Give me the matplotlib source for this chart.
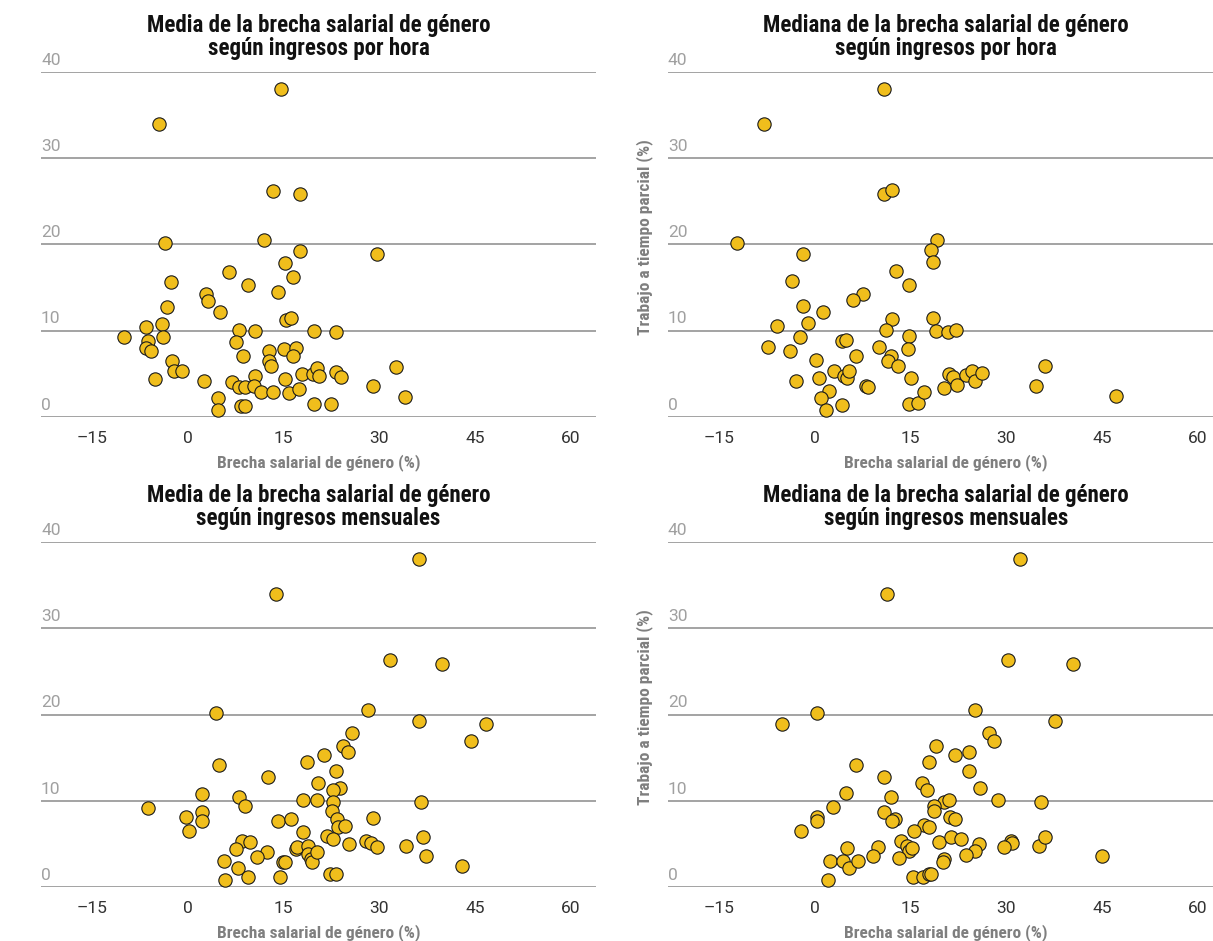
import matplotlib
matplotlib.use('Agg')
import matplotlib.pyplot as plt
from matplotlib import font_manager

# Brecha salarial de género (%) vs trabajo a tiempo parcial (%), por país
media_hora_x = [14.6, -4.5, 13.3, 17.6, -3.6, 11.9, 17.6, 29.7, 15.2, 6.5, 16.5, -2.7, 9.4, 14.1,
                2.8, 3.2, -3.3, 5.0, 15.4, 16.2, -6.5, -4.1, -10.0, -3.9, 8.1, 10.6, 19.8, 23.3,
                -6.2, -6.5, -5.8, 7.6, 8.7, 12.7, 12.8, 13.1, 15.1, 17.0, 16.5, -2.4, -2.2, -0.9,
                -5.2, 2.6, 6.9, 8.0, 8.9, 10.6, 10.4, 11.5, 13.4, 15.3, 15.9, 17.4, 17.9, 19.6,
                20.3, 20.6, 23.2, 24.0, 29.1, 32.6, 34.1, 4.8, 4.8, 8.4, 9.0, 19.8, 22.4]
media_hora_y = [38.0, 34.0, 26.2, 25.8, 20.2, 20.5, 19.2, 18.9, 17.8, 16.8, 16.2, 15.6, 15.3, 14.5,
                14.2, 13.4, 12.7, 12.1, 11.2, 11.5, 10.4, 10.8, 9.2, 9.3, 10.1, 10.0, 9.9, 9.8,
                8.8, 8.0, 7.6, 8.7, 7.1, 7.6, 6.5, 5.9, 7.8, 8.0, 7.0, 6.5, 5.3, 5.3,
                4.4, 4.1, 4.0, 3.5, 3.4, 4.7, 3.6, 2.9, 2.9, 4.4, 2.8, 3.2, 5.0, 5.0,
                5.6, 4.7, 5.2, 4.6, 3.6, 5.8, 2.3, 2.2, 0.8, 1.2, 1.2, 1.5, 1.5]

mediana_hora_x = [10.9, -8.0, 10.8, 12.1, -12.2, 19.2, 18.2, -1.9, 18.5, 12.7, 14.8, -3.6, 7.6, 6.0,
                  -1.9, 1.3, 12.1, 18.5, -6.0, -1.1, 11.1, 19.0, 20.8, 22.1, -2.3, 14.8, -7.4, -3.9,
                  4.3, 4.8, 10.0, 14.6, 6.4, 12.0, 11.5, 13.0, 0.2, 0.6, -3.0, 3.0, 4.6, 5.0,
                  5.3, 15.0, 2.2, 1.0, 1.7, 4.2, 8.0, 8.4, 14.8, 16.2, 17.1, 20.2, 21.0, 21.7,
                  22.3, 23.7, 24.6, 25.1, 26.2, 34.6, 36.0, 47.2]
mediana_hora_y = [38.0, 34.0, 25.8, 26.3, 20.2, 20.5, 19.3, 18.9, 17.9, 16.9, 15.3, 15.7, 14.2, 13.5,
                  12.8, 12.1, 11.3, 11.5, 10.5, 10.9, 10.1, 9.9, 9.8, 10.1, 9.3, 9.4, 8.1, 7.6,
                  8.8, 8.9, 8.1, 7.9, 7.1, 7.0, 6.5, 5.9, 6.6, 4.5, 4.1, 5.3, 4.7, 4.5,
                  5.3, 4.5, 3.0, 2.2, 0.8, 1.3, 3.6, 3.4, 1.5, 1.6, 2.9, 3.3, 5.0, 4.6,
                  3.7, 4.8, 5.3, 4.1, 5.1, 3.6, 5.9, 2.4]

media_mes_x = [36.3, 13.8, 31.7, 39.8, 4.4, 28.2, 36.2, 46.7, 25.8, 44.4, 24.3, 25.1, 21.4, 18.7,
               4.9, 23.2, 12.6, 20.4, 23.8, 22.8, 2.2, 8.1, 8.9, -6.3, 18.0, 20.3, 22.7, 36.5,
               -0.3, 2.2, 2.2, 0.2, 14.1, 16.2, 22.6, 23.4, 23.5, 24.7, 29.0, 18.0, 8.5, 9.7,
               7.5, 12.4, 10.8, 17.0, 17.1, 18.8, 18.8, 19.3, 19.5, 20.2, 21.9, 22.7, 25.3, 27.9,
               28.8, 29.7, 34.2, 36.9, 37.3, 43.0, 5.7, 7.9, 5.8, 9.4, 14.4, 14.9, 15.3, 22.3,
               23.2]
media_mes_y = [38.0, 34.0, 26.3, 25.8, 20.2, 20.5, 19.2, 18.9, 17.8, 16.9, 16.3, 15.7, 15.3, 14.5,
               14.2, 13.4, 12.8, 12.1, 11.5, 11.2, 10.8, 10.4, 9.4, 9.2, 10.1, 10.1, 9.9, 9.8,
               8.1, 8.7, 7.6, 6.5, 7.6, 7.9, 8.8, 7.9, 6.9, 7.1, 8.0, 6.4, 5.3, 5.2,
               4.4, 4.1, 3.5, 4.4, 4.6, 4.8, 3.8, 3.3, 2.9, 4.1, 5.9, 5.6, 5.0, 5.3,
               5.1, 4.6, 4.8, 5.8, 3.6, 2.4, 3.0, 2.2, 0.8, 1.2, 1.2, 2.9, 2.9, 1.5,
               1.5]

mediana_mes_x = [32.1, 11.3, 30.3, 40.4, 0.3, -5.2, 25.1, 37.6, 27.2, 28.1, 18.9, 21.9, 24.2, 17.9,
                 6.4, 24.1, 10.8, 16.8, 17.6, 25.8, 4.9, 12.0, 20.3, 21.0, 28.7, 35.4, 2.9, 18.6,
                 18.6, 0.3, 0.3, 10.9, 12.6, 12.1, 21.2, 21.9, 17.1, 17.9, -2.2, 15.5, 13.5, 14.5,
                 14.7, 15.2, 9.9, 5.0, 19.4, 21.3, 22.9, 25.7, 30.7, 30.9, 29.7, 35.1, 36.0, 44.9,
                 25.1, 23.7, 20.2, 20.1, 9.1, 13.2, 2.3, 4.4, 5.3, 6.7, 2.1, 15.4, 16.9, 17.9,
                 18.2]
mediana_mes_y = [38.0, 34.0, 26.3, 25.8, 20.2, 18.9, 20.5, 19.3, 17.8, 16.9, 16.3, 15.3, 15.7, 14.5,
                 14.2, 13.5, 12.8, 12.1, 11.3, 11.5, 10.9, 10.4, 9.9, 10.1, 10.1, 9.8, 9.3, 9.4,
                 8.8, 8.1, 7.6, 8.7, 7.9, 7.6, 8.1, 7.9, 7.2, 7.0, 6.5, 6.5, 5.3, 4.8,
                 4.2, 4.5, 4.6, 4.5, 5.2, 5.8, 5.6, 5.0, 5.3, 5.1, 4.6, 4.8, 5.8, 3.6,
                 4.2, 3.7, 3.2, 2.9, 3.6, 3.4, 3.0, 3.0, 2.2, 3.0, 0.8, 1.2, 1.2, 1.5,
                 1.5]

titulos = ['Media de la brecha salarial de género\nsegún ingresos por hora',
           'Mediana de la brecha salarial de género\nsegún ingresos por hora',
           'Media de la brecha salarial de género\nsegún ingresos mensuales',
           'Mediana de la brecha salarial de género\nsegún ingresos mensuales']
xticks = [-15, 0, 15, 30, 45, 60]
yticks = [0, 10, 20, 30, 40]
xlabel = 'Brecha salarial de género (%)'
ylabel = 'Trabajo a tiempo parcial (%)'

# pick a narrow bold face for titles if one is installed
names = {f.name for f in font_manager.fontManager.ttflist}
narrow = next((n for n in ['Roboto Condensed', 'DejaVu Sans Condensed', 'Liberation Sans Narrow',
                           'Open Sans Condensed'] if n in names), 'Roboto')
plt.rcParams['font.family'] = ['Roboto', 'DejaVu Sans']

W, H = 1213, 941
fig = plt.figure(figsize=(W / 100, H / 100), dpi=100)

# axes boxes in pixels: left, right, top, bottom
boxes = [(41, 596, 72, 416.7), (668, 1223.5, 72, 416.7),
         (41, 596, 542, 887), (668, 1223.5, 542, 887)]
series = [(media_hora_x, media_hora_y), (mediana_hora_x, mediana_hora_y),
          (media_mes_x, media_mes_y), (mediana_mes_x, mediana_mes_y)]

for i, ((l, r, t, b), (xs, ys)) in enumerate(zip(boxes, series)):
    ax = fig.add_axes([l / W, 1 - b / H, (r - l) / W, (b - t) / H])
    ax.set_xlim(-23, 64)
    ax.set_ylim(0, 40)
    for s in ax.spines.values():
        s.set_visible(False)
    for v in yticks:
        ax.axhline(v, color='#8a8a8a', lw=1.1, zorder=1)
        ax.annotate(str(v), xy=(0, v), xycoords=('axes fraction', 'data'),
                    xytext=(0, 3), textcoords='offset points', ha='left', va='bottom',
                    fontsize=12.5, color='#a0a0a0')
    ax.set_yticks([])
    ax.set_xticks(xticks)
    ax.set_xticklabels(['\u2013' + str(-v) if v < 0 else str(v) for v in xticks])
    ax.tick_params(axis='x', length=0, pad=10, labelsize=12.5, labelcolor='#333333')
    ax.scatter(xs, ys, s=92, color='#F0BE1C', edgecolor='#1a1a1a', linewidth=0.8,
               zorder=3, clip_on=False)
    ax.set_title(titulos[i], fontsize=16.5, fontweight='bold', family=narrow,
                 color='#111111', pad=12, linespacing=1.0)
    ax.set_xlabel(xlabel, fontsize=12.5, fontweight='bold', family=narrow,
                  color='#7f7f7f', labelpad=6)
    if i % 2 == 1:
        ax.set_ylabel(ylabel, fontsize=12.5, fontweight='bold', family=narrow,
                      color='#7f7f7f')
        ax.yaxis.set_label_coords(-0.027, 0.52)

fig.savefig('out.png', dpi=100)
